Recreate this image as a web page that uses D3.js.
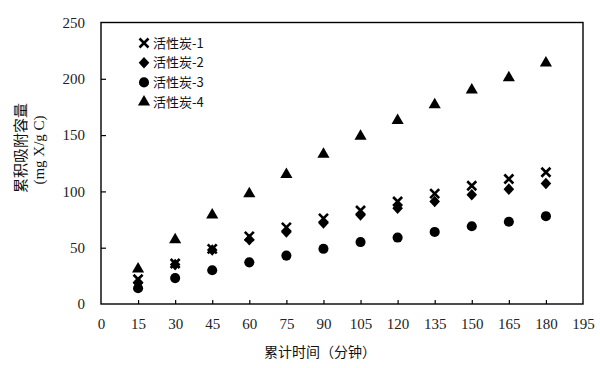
<!DOCTYPE html>
<html>
<head>
<meta charset="utf-8">
<script src="https://cdn.jsdelivr.net/npm/d3@7"></script>
<style>
  html, body { margin: 0; padding: 0; background: #fff; }
  svg { display: block; }
</style>
</head>
<body>
<svg id="chart" width="600" height="368"></svg>
<script>
const times = [15, 30, 45, 60, 75, 90, 105, 120, 135, 150, 165, 180];
const seriesNames = ["活性炭-1", "活性炭-2", "活性炭-3", "活性炭-4"];
const carbon1 = [22, 36, 49, 60, 68, 76, 83, 91, 98, 105, 111, 117];
const carbon2 = [19, 35, 48, 57, 64, 72, 79, 85, 91, 97, 102, 107];
const carbon3 = [14, 23, 30, 37, 43, 49, 55, 59, 64, 69, 73, 78];
const carbon4 = [31, 57, 79, 98, 115, 133, 149, 163, 177, 190, 201, 214];
const xTicks = [0, 15, 30, 45, 60, 75, 90, 105, 120, 135, 150, 165, 180, 195];
const yTicks = [0, 50, 100, 150, 200, 250];
const xTitle = "累计时间（分钟）";
const yTitle1 = "累积吸附容量";
const yTitle2 = "(mg X/g C)";

const seriesValues = [carbon1, carbon2, carbon3, carbon4];
const symbolTypes = ["cross", "diamond", d3.symbolCircle, d3.symbolTriangle];

const svg = d3.select("#chart");
const L = 101, R = 583, T = 22.5, B = 304;
const x = d3.scaleLinear().domain([0, 195]).range([L, R]);
const y = d3.scaleLinear().domain([0, 250]).range([B, T]);

const serif = "'Liberation Serif', 'DejaVu Serif', serif";
const cjk = "'Noto Sans CJK SC', 'Noto Sans', sans-serif";

// Frame
svg.append("rect").attr("x", L).attr("y", T).attr("width", R - L).attr("height", B - T)
  .attr("fill", "none").attr("stroke", "#000").attr("stroke-width", 1.4);

// Axes
const xAxis = svg.append("g").attr("transform", `translate(0,${B})`)
  .call(d3.axisBottom(x).tickValues(xTicks).tickSize(-4).tickPadding(14).tickFormat(d3.format("d")));
const yAxis = svg.append("g").attr("transform", `translate(${L},0)`)
  .call(d3.axisLeft(y).tickValues(yTicks).tickSize(-5).tickPadding(16).tickFormat(d3.format("d")));
[xAxis, yAxis].forEach(g => {
  g.select(".domain").remove();
  g.selectAll(".tick line").attr("stroke", "#000").attr("stroke-width", 1.2);
  g.selectAll(".tick text").attr("fill", "#222").style("font-family", serif).style("font-size", "15px");
});
xAxis.selectAll(".tick line").filter(d => d === 0 || d === 195).remove();
yAxis.selectAll(".tick line").filter(d => d === 0 || d === 250).remove();

// Titles
svg.append("text").attr("x", 320).attr("y", 357).attr("text-anchor", "middle")
  .style("font-family", cjk).style("font-size", "14px").attr("fill", "#111").text(xTitle);
svg.append("text").attr("transform", "translate(26,148) rotate(-90)").attr("text-anchor", "middle")
  .style("font-family", cjk).style("font-size", "15px").attr("fill", "#111").text(yTitle1);
svg.append("text").attr("transform", "translate(44,150) rotate(-90)").attr("text-anchor", "middle")
  .style("font-family", serif).style("font-size", "15px").attr("fill", "#111").text(yTitle2);

// Marker drawing
function drawMarker(g, type, cx, cy) {
  if (type === "cross") {
    const s = 4.5;
    g.append("path")
      .attr("d", `M${cx - s},${cy - s}L${cx + s},${cy + s}M${cx - s},${cy + s}L${cx + s},${cy - s}`)
      .attr("stroke", "#000").attr("stroke-width", 2.6).attr("fill", "none");
  } else if (type === "diamond") {
    const w = 5.3, h = 5.8;
    g.append("path")
      .attr("d", `M${cx},${cy - h}L${cx + w},${cy}L${cx},${cy + h}L${cx - w},${cy}Z`)
      .attr("fill", "#000");
  } else {
    const size = type === d3.symbolCircle ? 80 : 64;
    g.append("path").attr("d", d3.symbol().type(type).size(size)())
      .attr("transform", `translate(${cx},${cy})`)
      .attr("fill", "#000");
  }
}

const marks = svg.append("g");
seriesValues.forEach((vals, si) => {
  const g = marks.append("g");
  vals.forEach((v, i) => drawMarker(g, symbolTypes[si], x(times[i]), y(v)));
});

// Legend
const legend = svg.append("g");
seriesNames.forEach((name, i) => {
  const cy = 43 + i * 19.7;
  drawMarker(legend, symbolTypes[i], 144, cy);
  legend.append("text").attr("x", 153).attr("y", cy + 4.5)
    .style("font-family", cjk).style("font-size", "13px").attr("fill", "#111").text(name);
});
</script>
</body>
</html>
